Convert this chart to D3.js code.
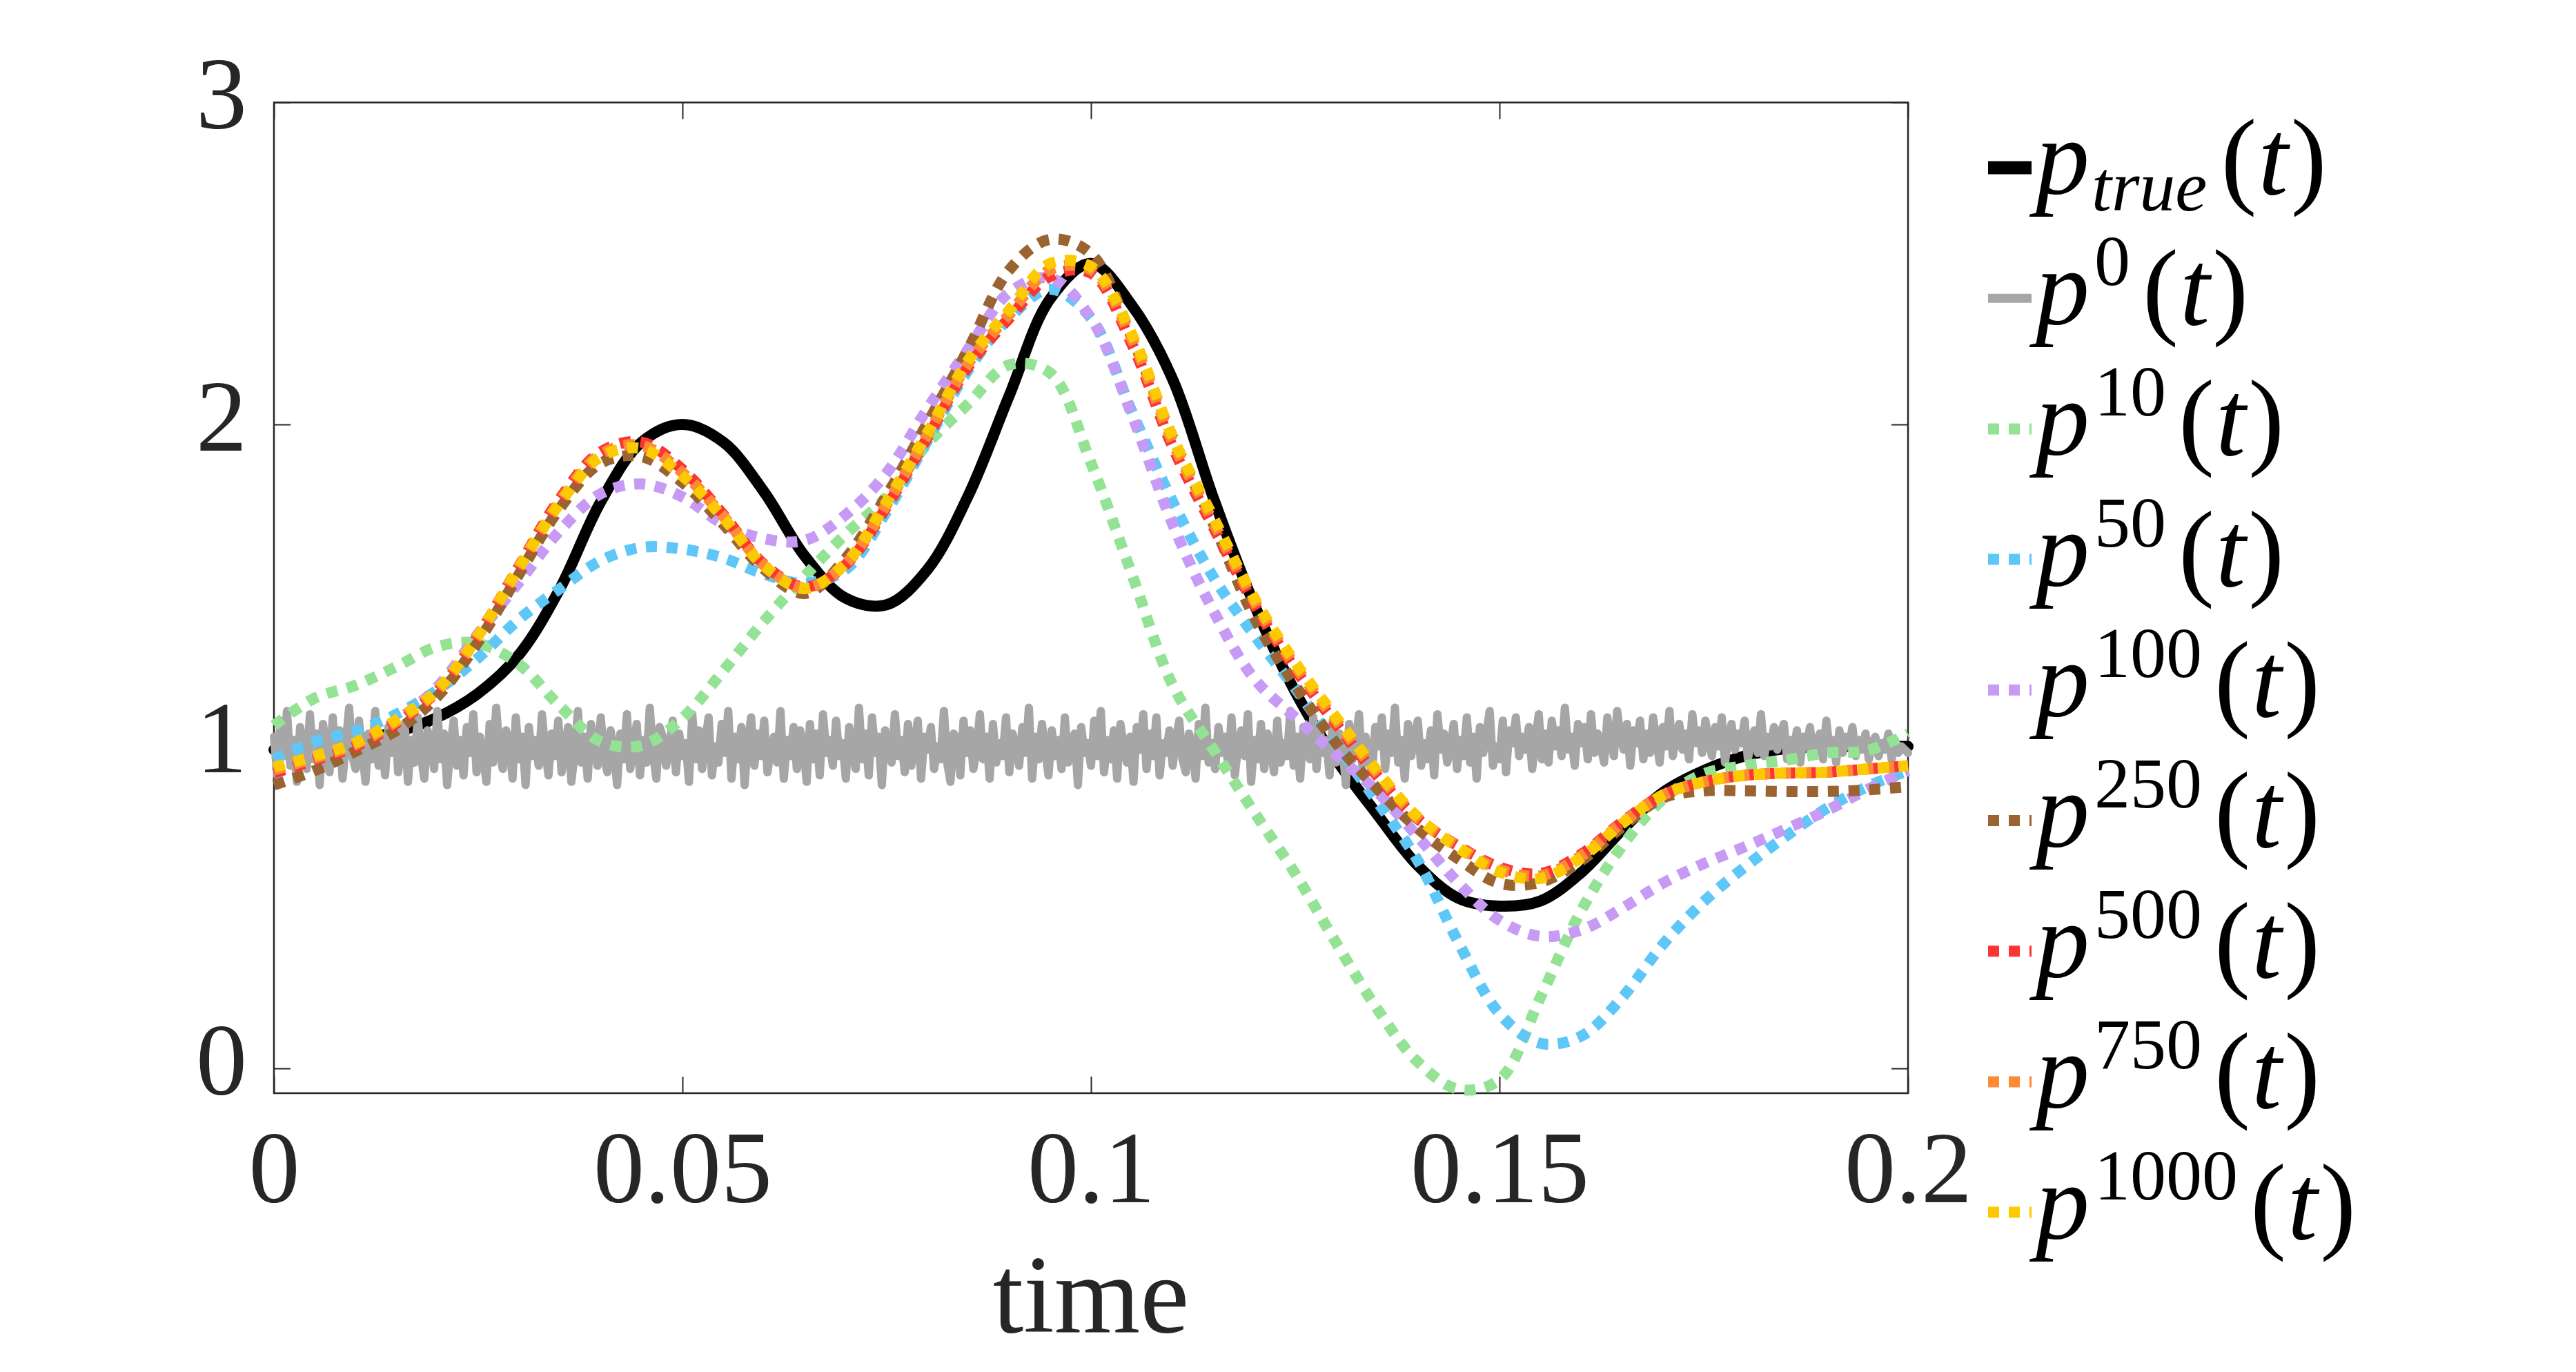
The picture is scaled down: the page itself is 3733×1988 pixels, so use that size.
<!DOCTYPE html>
<html><head><meta charset="utf-8">
<script src="https://cdn.jsdelivr.net/npm/d3@7"></script>
<style>html,body{margin:0;padding:0;background:#fff;}svg{display:block;}</style>
</head><body>
<svg id="chart" width="3733" height="1988"></svg>
<script>
// ---------- DATA ----------
const tGrid = [0,0.005,0.01,0.015,0.02,0.025,0.03,0.035,0.04,0.045,0.05,0.055,0.06,0.065,0.07,0.075,0.08,0.085,0.09,0.095,0.1,0.105,0.11,0.115,0.12,0.125,0.13,0.135,0.14,0.145,0.15,0.155,0.16,0.165,0.17,0.175,0.18,0.185,0.19,0.195,0.2];

const pTrue = [0.99,1.00,1.02,1.045,1.09,1.165,1.285,1.49,1.76,1.945,2.00,1.945,1.79,1.59,1.46,1.44,1.55,1.78,2.09,2.39,2.50,2.37,2.14,1.77,1.44,1.17,0.96,0.79,0.63,0.528,0.504,0.52,0.608,0.74,0.857,0.925,0.97,0.993,1.0,1.0,1.0];

const p10 = [1.065,1.15,1.19,1.248,1.31,1.32,1.255,1.125,1.015,1.003,1.088,1.235,1.39,1.53,1.66,1.775,1.94,2.065,2.185,2.16,1.88,1.535,1.19,0.99,0.795,0.605,0.39,0.186,0.02,-0.065,-0.035,0.22,0.49,0.69,0.835,0.915,0.94,0.957,0.98,0.987,1.04];

const p50 = [0.96,1.015,1.048,1.10,1.175,1.275,1.395,1.49,1.577,1.618,1.613,1.585,1.535,1.507,1.55,1.73,1.95,2.17,2.33,2.42,2.33,2.04,1.76,1.525,1.345,1.18,1.005,0.83,0.645,0.39,0.17,0.078,0.10,0.22,0.385,0.518,0.625,0.72,0.807,0.875,0.925];

const p100 = [0.915,0.965,1.008,1.08,1.185,1.35,1.51,1.67,1.785,1.815,1.775,1.69,1.645,1.64,1.72,1.85,2.05,2.235,2.41,2.455,2.33,2.03,1.69,1.42,1.21,1.09,0.975,0.86,0.72,0.575,0.46,0.41,0.43,0.497,0.575,0.636,0.688,0.743,0.80,0.866,0.925];

const p250 = [0.88,0.925,0.985,1.05,1.155,1.325,1.535,1.74,1.88,1.90,1.82,1.69,1.55,1.475,1.585,1.78,2.005,2.235,2.48,2.575,2.53,2.27,1.96,1.69,1.40,1.19,1.01,0.87,0.745,0.65,0.575,0.578,0.645,0.75,0.84,0.862,0.862,0.86,0.86,0.865,0.875];

const p500 = [0.918,0.958,1.0,1.072,1.172,1.345,1.56,1.77,1.915,1.945,1.86,1.72,1.565,1.495,1.565,1.745,1.96,2.18,2.33,2.46,2.47,2.25,1.93,1.68,1.44,1.24,1.07,0.91,0.775,0.69,0.625,0.605,0.665,0.765,0.849,0.89,0.91,0.917,0.92,0.93,0.94];

const p750 = [0.927,0.964,1.006,1.078,1.174,1.345,1.558,1.762,1.908,1.935,1.85,1.715,1.562,1.492,1.568,1.752,1.968,2.19,2.342,2.48,2.48,2.265,1.945,1.695,1.45,1.25,1.08,0.918,0.778,0.688,0.618,0.598,0.66,0.762,0.849,0.89,0.91,0.917,0.92,0.93,0.94];

const p1000 = [0.935,0.97,1.012,1.083,1.175,1.345,1.555,1.755,1.90,1.925,1.84,1.71,1.56,1.49,1.57,1.76,1.975,2.20,2.355,2.50,2.49,2.28,1.96,1.71,1.46,1.26,1.09,0.925,0.78,0.685,0.61,0.59,0.655,0.76,0.849,0.89,0.91,0.917,0.92,0.93,0.94];

// noisy initial guess p^0(t), sampled every 0.0004 in time
const p0Step = 0.0004;
const p0 = [1.03,0.91,1.08,0.97,1.11,0.94,1.02,0.89,1.06,0.99,
0.93,1.10,0.96,1.04,0.88,1.07,1.00,0.92,1.09,0.95,
1.05,0.90,1.01,1.12,0.97,0.93,1.08,0.99,0.89,1.04,
0.96,1.11,0.94,1.03,0.91,1.06,0.98,1.10,0.92,1.00,
1.07,0.89,1.02,0.95,1.09,0.97,0.90,1.05,1.01,0.93,
1.11,0.96,1.04,0.88,1.00,1.08,0.94,1.02,0.91,1.06,
0.98,1.10,0.92,1.03,0.97,0.89,1.07,0.95,1.12,0.99,
0.93,1.05,1.01,0.90,1.09,0.96,1.03,0.88,1.06,0.97,
1.02,0.94,1.10,0.99,0.91,1.04,0.97,1.08,0.92,1.00,
1.06,0.89,0.98,1.11,0.95,1.03,0.90,1.07,1.01,0.94,
1.09,0.97,0.92,1.05,0.99,0.88,1.04,0.96,1.10,0.93,
1.00,1.07,0.91,1.02,0.95,1.12,0.98,0.90,1.06,1.03,
0.94,0.99,1.08,0.92,1.04,0.97,1.01,0.89,1.10,0.96,
1.05,0.93,1.02,1.09,0.91,1.00,0.95,1.07,0.98,1.11,
0.90,1.03,0.96,1.06,0.88,1.01,1.09,0.94,1.04,0.97,
1.08,0.92,0.99,1.03,0.95,1.11,0.90,1.02,0.97,1.06,
0.93,1.05,1.00,0.89,1.07,0.96,1.04,0.91,1.10,0.98,
1.02,0.94,1.08,0.97,1.01,0.90,1.06,0.99,0.93,1.12,
0.96,1.04,0.91,1.09,0.98,1.03,0.88,1.05,1.00,0.95,
1.10,0.97,1.02,0.92,1.07,0.94,1.01,1.08,0.90,1.03,
0.99,1.06,0.93,1.00,0.96,1.11,0.95,0.89,1.04,1.02,
0.91,1.08,0.98,1.05,0.93,0.99,1.10,0.96,1.03,0.90,
1.07,0.95,1.01,0.97,1.09,0.92,1.04,1.00,0.94,1.06,
0.98,1.12,0.90,1.03,0.96,1.07,0.99,0.91,1.05,0.97,
1.02,0.93,1.09,0.95,1.00,1.04,0.88,1.06,0.98,1.01,
0.94,1.08,0.97,1.11,0.92,1.02,0.96,1.05,0.90,1.07,
1.00,0.95,1.03,0.89,1.06,0.99,1.10,0.93,1.04,0.97,
1.09,0.91,1.01,0.98,1.05,0.94,1.02,1.08,0.96,0.92,
1.04,1.00,0.90,1.07,0.97,1.12,0.95,1.01,0.93,1.06,
0.98,1.03,0.94,1.09,0.91,1.00,1.05,0.97,1.10,0.89,
1.02,0.96,1.07,0.93,1.04,0.99,0.92,1.08,0.95,1.01,
0.97,1.11,0.94,1.03,0.90,1.06,1.00,0.96,1.09,0.93,
1.05,0.98,1.02,0.91,1.08,0.95,1.04,0.99,0.88,1.07,
0.96,1.01,1.10,0.94,1.03,0.97,0.92,1.06,1.00,1.09,
0.93,1.04,0.98,1.12,0.95,1.02,0.90,1.07,0.97,1.03,
1.08,0.94,1.01,0.96,1.05,0.91,1.10,0.99,1.04,0.95,
1.00,1.07,0.93,1.02,0.97,1.09,0.95,1.03,0.90,1.06,
0.98,1.04,1.11,0.94,1.00,0.96,1.08,0.92,1.05,1.01,
1.09,0.97,1.03,0.99,1.06,0.93,1.02,1.10,0.96,1.04,
0.95,1.08,1.00,1.05,0.97,1.12,0.99,1.03,0.94,1.07,
1.01,1.06,0.96,1.10,0.98,1.04,1.00,0.95,1.09,1.02,
0.97,1.11,1.03,0.99,1.07,0.94,1.05,1.01,1.08,0.96,
1.04,0.98,1.09,1.02,0.95,1.06,1.00,1.11,0.97,1.03,
1.07,0.99,1.04,0.96,1.10,1.01,1.05,0.98,1.08,1.02,
0.97,1.06,1.00,1.09,0.95,1.03,1.07,0.99,1.04,1.01,
1.08,0.96,1.02,1.05,0.98,1.10,0.97,1.03,1.00,1.06,
0.99,1.04,1.07,0.96,1.02,0.98,1.05,0.95,1.03,1.00,
1.06,0.97,1.01,1.04,0.96,1.08,0.99,1.02,0.95,1.05,
0.98,1.03,1.00,1.06,0.97,1.02,0.99,1.04,0.96,1.01,
1.03,0.97,1.01,0.99,1.04,0.96,1.02,0.98,1.00,0.99,
0.98];

const xTickValues = [0,0.05,0.1,0.15,0.2];
const xTickLabels = ["0","0.05","0.1","0.15","0.2"];
const yTickValues = [0,1,2,3];
const yTickLabels = ["0","1","2","3"];
const legendScripts = ["true","0","10","50","100","250","500","750","1000"];
const xLabel = "time";

// ---------- DRAWING ----------
const W = 3733, H = 1988;
const svg = d3.select("#chart");
svg.append("rect").attr("width",W).attr("height",H).attr("fill","#ffffff");

const x = d3.scaleLinear().domain([0,0.2]).range([397,2765]);
const y = d3.scaleLinear().domain([-0.077,3]).range([1584,148.5]);
const axisColor = "#262626";
const serif = "'Liberation Serif', 'DejaVu Serif', serif";

function styleAxis(g){
  g.attr("color",axisColor).attr("font-family",serif).attr("font-size",148);
  g.select(".domain").remove();
  g.selectAll(".tick line").attr("stroke-width",2);
}
const gB = svg.append("g").attr("transform",`translate(0,${y.range()[0]})`)
  .call(d3.axisBottom(x).tickValues(xTickValues).tickFormat(d=>xTickLabels[xTickValues.indexOf(d)]).tickSize(-24).tickSizeOuter(0));
styleAxis(gB);
gB.selectAll(".tick text").attr("y",158).attr("dy",null);

const gT = svg.append("g").attr("transform",`translate(0,${y.range()[1]})`)
  .call(d3.axisTop(x).tickValues(xTickValues).tickFormat("").tickSize(-24).tickSizeOuter(0));
styleAxis(gT);

const gL = svg.append("g").attr("transform",`translate(${x.range()[0]},0)`)
  .call(d3.axisLeft(y).tickValues(yTickValues).tickFormat(d=>yTickLabels[yTickValues.indexOf(d)]).tickSize(-24).tickSizeOuter(0));
styleAxis(gL);
gL.selectAll(".tick text").attr("x",-39).attr("y",37).attr("dy",null);

const gR = svg.append("g").attr("transform",`translate(${x.range()[1]},0)`)
  .call(d3.axisRight(y).tickValues(yTickValues).tickFormat("").tickSize(-24).tickSizeOuter(0));
styleAxis(gR);

svg.append("rect")
  .attr("x",x.range()[0]).attr("y",y.range()[1])
  .attr("width",x.range()[1]-x.range()[0]).attr("height",y.range()[0]-y.range()[1])
  .attr("fill","none").attr("stroke",axisColor).attr("stroke-width",2.5);

svg.append("text").attr("x",(x.range()[0]+x.range()[1])/2).attr("y",1930)
  .attr("text-anchor","middle").attr("font-family",serif).attr("font-size",160)
  .attr("fill",axisColor).text(xLabel);

const series = [
  {key:"true", vals:pTrue, color:"#000000", width:16, dash:null},
  {key:"0",    vals:p0,    color:"#a6a6a6", width:12, dash:null, noisy:true},
  {key:"10",   vals:p10,   color:"#94e294", width:16, dash:"16,14"},
  {key:"50",   vals:p50,   color:"#5ec7f8", width:16, dash:"16,14"},
  {key:"100",  vals:p100,  color:"#c79af6", width:16, dash:"16,14"},
  {key:"250",  vals:p250,  color:"#9a6432", width:16, dash:"16,14"},
  {key:"500",  vals:p500,  color:"#fd3434", width:16, dash:"16,14"},
  {key:"750",  vals:p750,  color:"#fd8a35", width:16, dash:"16,14"},
  {key:"1000", vals:p1000, color:"#fdca02", width:16, dash:"16,14"}
];

const smooth = d3.line().x(d=>x(d[0])).y(d=>y(d[1])).curve(d3.curveCatmullRom.alpha(0.5));
const raw = d3.line().x(d=>x(d[0])).y(d=>y(d[1]));

const gLines = svg.append("g");
series.forEach(s=>{
  const pts = s.noisy ? s.vals.map((v,i)=>[i*p0Step, v]) : tGrid.map((t,i)=>[t, s.vals[i]]);
  const p = gLines.append("path").attr("d", s.noisy ? raw(pts) : smooth(pts))
    .attr("fill","none").attr("stroke",s.color).attr("stroke-width",s.width);
  if (s.dash) p.attr("stroke-dasharray",s.dash).attr("stroke-linecap","butt").attr("stroke-linejoin","miter");
  else p.attr("stroke-linecap","round").attr("stroke-linejoin","round");
});

// ---------- LEGEND ----------
const legX0 = 2881, legX1 = 2944, legY0 = 243, legDY = 189.2;
const gLeg = svg.append("g");
series.forEach((s,i)=>{
  const yy = legY0 + i*legDY;
  const l = gLeg.append("line").attr("x1",legX0).attr("x2",legX1).attr("y1",yy).attr("y2",yy)
    .attr("stroke",s.color).attr("stroke-width", i===0 ? 19 : (i===1 ? 13 : 16));
  if (s.dash) l.attr("stroke-dasharray",s.dash);
  const isSub = legendScripts[i]==="true";
  const shift = isSub ? 24 : -57;
  const t = gLeg.append("text").attr("x",2950).attr("y",yy+38)
    .attr("font-family",serif).attr("font-size",156).attr("fill","#000");
  t.append("tspan").attr("font-style","italic").text("p");
  t.append("tspan").attr("font-size",104).attr("dx", isSub ? 3 : 7).attr("dy",shift)
    .attr("font-style", isSub ? "italic" : "normal").text(legendScripts[i]);
  t.append("tspan").attr("dx", isSub ? 20 : 18).attr("dy",-shift).text("(");
  t.append("tspan").attr("font-style","italic").attr("dx",2).text("t");
  t.append("tspan").attr("dx",4).text(")");
});
</script>
</body></html>
